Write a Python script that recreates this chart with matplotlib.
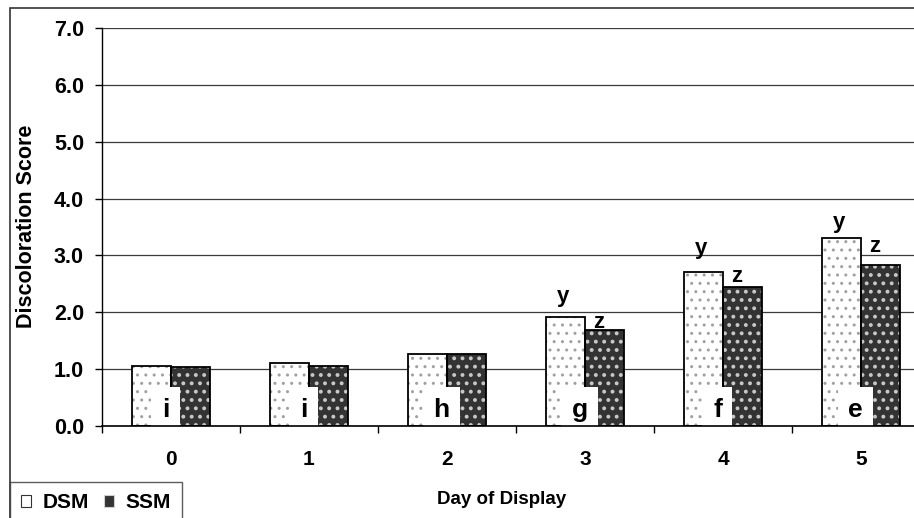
import numpy as np
import matplotlib
matplotlib.use("Agg")
import matplotlib.pyplot as plt
from matplotlib.patches import Patch, Rectangle

plt.rcParams['font.family'] = ['Liberation Sans', 'DejaVu Sans']
plt.rcParams['font.weight'] = 'bold'

days = [0, 1, 2, 3, 4, 5]
dsm = [1.06, 1.11, 1.27, 1.92, 2.71, 3.31]
ssm = [1.03, 1.06, 1.27, 1.69, 2.44, 2.83]
day_letters = ['i', 'i', 'h', 'g', 'f', 'e']
# y / z separation letters over days 3-5
sig_days = [3, 4, 5]
sig_dsm_y = [2.18, 3.02, 3.48]
sig_ssm_y = [1.73, 2.54, 3.06]

W, H = 914, 518
fig = plt.figure(figsize=(W / 100, H / 100), dpi=100)

# outer chart frame, cut off at right and bottom like the original
fig.patches.append(Rectangle((10 / W, -0.1), 1.2, 1.1 - 8 / H, transform=fig.transFigure,
                             fill=False, edgecolor='#333333', linewidth=1.2))

ax = fig.add_axes([102 / W, 92 / H, 828 / W, 398 / H])
ax.set_facecolor('none')

x = np.array(days, dtype=float)
bw = 0.286


def hatched(xs, ys, face, dots, hlw):
    with plt.rc_context({'hatch.linewidth': hlw}):
        bars = ax.bar(xs, ys, bw, color=face, edgecolor=dots, linewidth=0, hatch='..', zorder=2)
    for b in bars:
        if hasattr(b, 'set_hatch_linewidth'):
            b.set_hatch_linewidth(hlw)
    return bars


# hatched fills (hatch colour comes from edgecolor), then black outlines
hatched(x - bw / 2, dsm, 'white', '#a0a0a0', 1.0)
hatched(x + bw / 2, ssm, '#333333', '#c8c8c8', 1.6)
ax.bar(x - bw / 2, dsm, bw, fill=False, edgecolor='black', linewidth=1.3, zorder=3)
ax.bar(x + bw / 2, ssm, bw, fill=False, edgecolor='black', linewidth=1.3, zorder=3)

for d, lt in zip(days, day_letters):
    ax.text(d - 0.04, 0.16, lt, ha='center', va='baseline', fontsize=19, fontweight='bold',
            bbox=dict(boxstyle='square,pad=0.4', facecolor='white', edgecolor='none'), zorder=4)

for d, yv in zip(sig_days, sig_dsm_y):
    ax.text(d - 0.16, yv, 'y', ha='center', va='baseline', fontsize=16, fontweight='bold', zorder=4)
for d, yv in zip(sig_days, sig_ssm_y):
    ax.text(d + 0.10, yv, 'z', ha='center', va='baseline', fontsize=16, fontweight='bold', zorder=4)

ax.set_xlim(-0.5, 5.5)
ax.set_ylim(0, 7)
ax.set_yticks(np.arange(0, 7.1, 1.0))
ax.set_yticklabels(['%.1f' % v for v in np.arange(0, 7.1, 1.0)])
ax.set_xticks(x)
ax.set_xticklabels([str(d) for d in days])
ax.set_xticks(np.arange(-0.5, 6, 1.0), minor=True)
ax.tick_params(axis='x', which='major', length=0, pad=17, labelsize=15)
ax.tick_params(axis='x', which='minor', length=5, width=1, direction='out')
ax.tick_params(axis='y', length=5, width=1, direction='out', pad=8, labelsize=15.5)
for lab in ax.get_xticklabels() + ax.get_yticklabels():
    lab.set_fontweight('bold')

ax.yaxis.grid(True, color='#3a3a3a', linewidth=0.9, zorder=0)
ax.set_axisbelow(True)
ax.spines['top'].set_visible(False)
ax.spines['right'].set_visible(False)
ax.spines['left'].set_linewidth(1)
ax.spines['bottom'].set_linewidth(1.2)
ax.spines['bottom'].set_zorder(5)

fig.text(502 / W, 1 - 500 / H, 'Day of Display', ha='center', va='center', fontsize=13.5, fontweight='bold')
fig.text(27 / W, 1 - 226 / H, 'Discoloration Score', ha='center', va='center', rotation=90,
         fontsize=15.5, fontweight='bold')

handles = [Patch(facecolor='white', edgecolor='#333333', hatch='.', linewidth=0.8, label='DSM'),
           Patch(facecolor='#333333', edgecolor='#d0d0d0', hatch='.', linewidth=0.8, label='SSM')]
leg = fig.legend(handles=handles, loc='upper left', bbox_to_anchor=(10 / W, 1 - 482 / H), ncol=2,
                 frameon=True, fancybox=False, borderaxespad=0, handlelength=0.45,
                 handleheight=0.45, handletextpad=0.55, columnspacing=0.75, borderpad=0.55,
                 prop={'weight': 'bold', 'size': 15})
leg.get_frame().set_edgecolor('#333333')
leg.get_frame().set_linewidth(1.0)

fig.savefig('out.png', dpi=100)
